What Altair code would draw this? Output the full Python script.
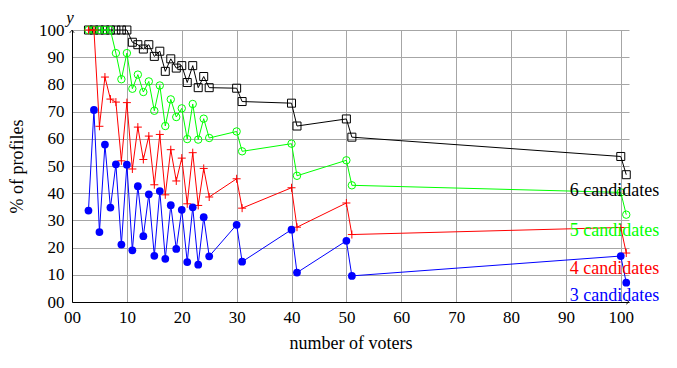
import altair as alt
import pandas as pd

# number of voters
voters = list(range(3, 26)) + [30, 31, 40, 41, 50, 51, 100, 101]

# % of profiles per number of candidates
six = [100, 100, 100, 100, 100, 100, 100, 100, 95.5, 94.6, 93.0, 94.6, 90.3, 92.2, 84.8,
       89.4, 86.0, 86.9, 80.7, 86.9, 78.8, 82.9, 78.8, 78.6, 73.7, 73.1, 64.7, 67.3, 60.6,
       53.5, 46.8]
five = [100, 100, 100, 100, 100, 91.5, 81.9, 91.5, 78.4, 83.6, 77.2, 81.1, 70.3, 79.6, 64.7,
        74.5, 68.0, 71.2, 59.9, 72.8, 59.7, 67.4, 60.3, 62.7, 55.4, 58.2, 46.4, 52.1, 42.9,
        40.3, 32.1]
four = [100, 100, 64.6, 82.7, 74.6, 73.5, 51.9, 73.3, 48.9, 64.3, 52.4, 61.0, 43.1, 61.6, 39.4,
        56.0, 44.5, 52.9, 36.1, 54.9, 35.5, 49.1, 38.6, 45.3, 34.5, 42.0, 27.5, 36.4, 24.8,
        27.4, 18.0]
three = [33.6, 70.6, 25.7, 57.9, 34.7, 50.6, 21.1, 50.5, 19.0, 42.6, 24.2, 39.6, 17.0, 40.8, 15.9,
         35.6, 19.5, 33.9, 14.7, 34.8, 13.7, 31.2, 16.8, 28.4, 14.8, 26.6, 10.8, 22.5, 9.6,
         16.9, 7.1]

series_names = ["6 candidates", "5 candidates", "4 candidates", "3 candidates"]
series_values = [six, five, four, three]
colors = ["#000000", "#00ff00", "#ff0000", "#0000ff"]
x_ticks = [0, 10, 20, 30, 40, 50, 60, 70, 80, 90, 100]
y_ticks = [0, 10, 20, 30, 40, 50, 60, 70, 80, 90, 100]

# label anchor positions (data units)
label_x = [90.7, 90.7, 90.7, 90.7]
label_y = [38.8, 24.2, 10.4, 0.3]

rows = []
for name, vals in zip(series_names, series_values):
    for n, v in zip(voters, vals):
        rows.append({"n": n, "pct": v, "series": name})
df = pd.DataFrame(rows)

labels_df = pd.DataFrame({"series": series_names, "n": label_x, "pct": label_y})

FONT = "Liberation Serif"
XMAX = 101.5
ends = pd.DataFrame({"n": [0.0, XMAX], "pct": [100.0, 0.0], "dir": ["up", "right"]})

common = dict(labelExpr="datum.value == 0 ? '00' : datum.label",
              labelFont=FONT, titleFont=FONT, labelFontSize=17, titleFontSize=18,
              labelFlush=False, labelOverlap=False, grid=True, gridColor="#a6a6a6",
              gridWidth=1, ticks=False, domainColor="#000000", labelColor="#000000",
              titleColor="#000000", titleFontWeight="normal")
x_axis = alt.Axis(values=x_ticks, title="number of voters", labelPadding=7, titlePadding=9,
                  **common)
y_axis = alt.Axis(values=y_ticks, tickCount=11, title="% of profiles", labelPadding=8,
                  titlePadding=12, **common)
x_scale = alt.Scale(domain=[0, XMAX], nice=False, zero=False)
y_scale = alt.Scale(domain=[0, 100], nice=False)

x_enc = alt.X("n:Q", scale=x_scale, axis=x_axis)
y_enc = alt.Y("pct:Q", scale=y_scale, axis=y_axis)

base = alt.Chart(df).encode(x=x_enc, y=y_enc)

shapes = {
    "6 candidates": dict(shape="square", filled=False, size=64),
    "5 candidates": dict(shape="circle", filled=False, size=55),
    "4 candidates": dict(shape="M-1,0L1,0M0,-1L0,1", filled=False, size=64),
    "3 candidates": dict(shape="circle", filled=True, size=60),
}

layers = []
for name, c in zip(series_names, colors):
    sub = base.transform_filter(alt.datum.series == name)
    layers.append(sub.mark_line(color=c, strokeWidth=1))
    layers.append(sub.mark_point(color=c, strokeWidth=1, opacity=1, **shapes[name]))

text = alt.Chart(labels_df).mark_text(font=FONT, fontSize=18, align="left",
                                      baseline="alphabetic").encode(
    x=x_enc, y=y_enc, text="series:N",
    color=alt.Color("series:N", scale=alt.Scale(domain=series_names, range=colors), legend=None))

ends_base = alt.Chart(ends).encode(x=x_enc, y=y_enc)
ylab = ends_base.transform_filter(alt.datum.dir == "up").mark_text(
    text="y", font=FONT, fontStyle="italic", fontSize=17,
    align="center", baseline="top", dx=-2, dy=-20)
arrow_up = ends_base.transform_filter(alt.datum.dir == "up").mark_point(
    shape="M-0.7,0.9L0,0L0.7,0.9", size=40, filled=False,
    color="#000000", strokeWidth=0.8, opacity=1)
arrow_right = ends_base.transform_filter(alt.datum.dir == "right").mark_point(
    shape="M-0.9,-0.7L0,0L-0.9,0.7", size=40, filled=False,
    color="#000000", strokeWidth=0.8, opacity=1)

chart = alt.layer(*layers, text, ylab, arrow_up, arrow_right).properties(
    width=557, height=272,
    autosize=alt.AutoSizeParams(type="none"),
    padding={"left": 64, "top": 22, "right": 40, "bottom": 50},
).configure_view(stroke=None)

chart.save("out.html", embed_options={"renderer": "svg", "actions": False})
